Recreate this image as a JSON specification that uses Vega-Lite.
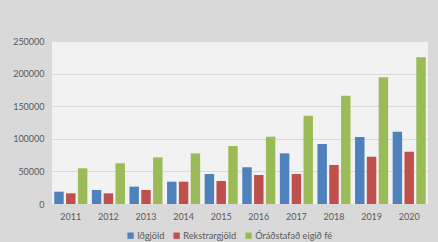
{
  "$schema": "https://vega.github.io/schema/vega-lite/v6.json",
  "width": 376,
  "height": 163,
  "autosize": {"type": "none"},
  "padding": {"left": 52, "top": 41, "right": 10, "bottom": 38},
  "background": "#d9d9d9",
  "config": {
    "view": {"fill": "#f2f2f2", "stroke": null},
    "font": "Lato",
    "axis": {"labelFont": "Lato", "labelFontSize": 9, "labelColor": "#595959", "ticks": false, "domain": false, "title": null},
    "legend": {"labelFont": "Lato", "labelFontSize": 9.2, "labelColor": "#595959"}
  },
  "data": {
    "values": [
      {"year": "2011", "series": "Iðgjöld", "value": 18900},
      {"year": "2011", "series": "Rekstrargjöld", "value": 16400},
      {"year": "2011", "series": "Óráðstafað eigið fé", "value": 54700},
      {"year": "2012", "series": "Iðgjöld", "value": 21500},
      {"year": "2012", "series": "Rekstrargjöld", "value": 16400},
      {"year": "2012", "series": "Óráðstafað eigið fé", "value": 62400},
      {"year": "2013", "series": "Iðgjöld", "value": 26600},
      {"year": "2013", "series": "Rekstrargjöld", "value": 21500},
      {"year": "2013", "series": "Óráðstafað eigið fé", "value": 71600},
      {"year": "2014", "series": "Iðgjöld", "value": 34200},
      {"year": "2014", "series": "Rekstrargjöld", "value": 34200},
      {"year": "2014", "series": "Óráðstafað eigið fé", "value": 77700},
      {"year": "2015", "series": "Iðgjöld", "value": 46000},
      {"year": "2015", "series": "Rekstrargjöld", "value": 35300},
      {"year": "2015", "series": "Óráðstafað eigið fé", "value": 89000},
      {"year": "2016", "series": "Iðgjöld", "value": 56300},
      {"year": "2016", "series": "Rekstrargjöld", "value": 44500},
      {"year": "2016", "series": "Óráðstafað eigið fé", "value": 103200},
      {"year": "2017", "series": "Iðgjöld", "value": 77700},
      {"year": "2017", "series": "Rekstrargjöld", "value": 46000},
      {"year": "2017", "series": "Óráðstafað eigið fé", "value": 135400},
      {"year": "2018", "series": "Iðgjöld", "value": 92000},
      {"year": "2018", "series": "Rekstrargjöld", "value": 59800},
      {"year": "2018", "series": "Óráðstafað eigið fé", "value": 166100},
      {"year": "2019", "series": "Iðgjöld", "value": 102800},
      {"year": "2019", "series": "Rekstrargjöld", "value": 72500},
      {"year": "2019", "series": "Óráðstafað eigið fé", "value": 194300},
      {"year": "2020", "series": "Iðgjöld", "value": 110900},
      {"year": "2020", "series": "Rekstrargjöld", "value": 80200},
      {"year": "2020", "series": "Óráðstafað eigið fé", "value": 225000}
    ]
  },
  "mark": {"type": "bar"},
  "encoding": {
    "x": {
      "field": "year", "type": "nominal",
      "scale": {"paddingInner": 0.12, "paddingOuter": 0.06},
      "axis": {"labelAngle": 0, "labelPadding": 8, "grid": false}
    },
    "xOffset": {
      "field": "series", "type": "nominal",
      "sort": ["Iðgjöld", "Rekstrargjöld", "Óráðstafað eigið fé"],
      "scale": {"paddingInner": 0.2, "paddingOuter": 0}
    },
    "y": {
      "field": "value", "type": "quantitative",
      "scale": {"domain": [0, 250000], "nice": false},
      "axis": {"values": [0, 50000, 100000, 150000, 200000, 250000], "format": "d", "labelPadding": 8, "gridColor": "#d9d9d9", "gridWidth": 1}
    },
    "color": {
      "field": "series", "type": "nominal",
      "scale": {"domain": ["Iðgjöld", "Rekstrargjöld", "Óráðstafað eigið fé"], "range": ["#4f81bd", "#c0504d", "#9bbb59"]},
      "legend": {"title": null, "orient": "none", "direction": "horizontal", "legendX": 74, "legendY": 190, "symbolType": "square", "symbolSize": 40, "symbolStrokeWidth": 0, "columnPadding": 7, "labelOffset": 2}
    }
  }
}
